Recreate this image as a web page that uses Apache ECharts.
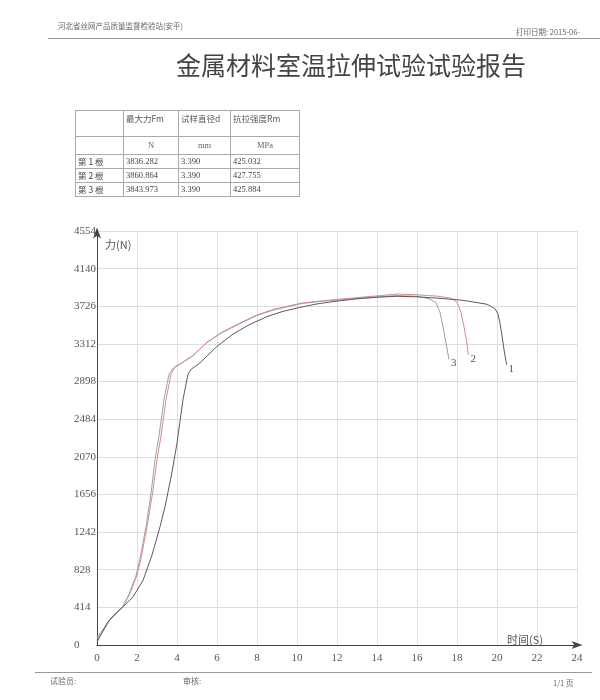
<!DOCTYPE html>
<html><head><meta charset="utf-8">
<script src="https://cdn.jsdelivr.net/npm/echarts@6/dist/echarts.min.js"></script>
<style>
html,body{margin:0;padding:0;background:#fff;}
#page{position:relative;width:600px;height:700px;overflow:hidden;background:#fff;}
#chart{position:absolute;left:0;top:0;width:600px;height:700px;}
.t{position:absolute;white-space:nowrap;font-family:"Noto Sans CJK SC",sans-serif;color:#555;line-height:1;}
.hl{position:absolute;height:0;border-top:1px solid #888;}
table.rep{position:absolute;left:75px;top:110px;border-collapse:collapse;table-layout:fixed;width:224px;}
table.rep td{border:1px solid #aaa;padding:0 2px;font-size:8.5px;color:#444;white-space:nowrap;overflow:hidden;
  font-family:"Liberation Serif","Noto Sans CJK SC",serif;line-height:1;}
table.rep td.cj{font-family:"Noto Sans CJK SC",sans-serif;}
</style>
</head><body>
<div id="page">
<div id="chart"></div>
<div class="t" style="left:58px;top:22px;font-size:7.5px;color:#666;">河北省丝网产品质量监督检验站(安平)</div>
<div class="t" style="left:516px;top:28px;font-size:7.5px;color:#666;">打印日期: 2015-06-</div>
<div class="hl" style="left:48px;top:38px;width:552px;border-color:#999;"></div>
<div class="t" style="left:176px;top:52px;font-size:25px;color:#444;">金属材料室温拉伸试验试验报告</div>
<div id="tbl"></div>
<div class="hl" style="left:35px;top:672px;width:557px;border-color:#999;"></div>
<div class="t" style="left:50px;top:677px;font-size:8px;color:#666;">试验员:</div>
<div class="t" style="left:183px;top:677px;font-size:8px;color:#666;">审核:</div>
<div class="t" style="left:553px;top:679px;font-size:7.5px;color:#666;">1/1 页</div>
</div>
<script>
// ---- table data ----
const tableHeads = ['', '最大力Fm', '试样直径d', '抗拉强度Rm'];
const tableUnits = ['', 'N', 'mm', 'MPa'];
const rowNames = ['第 1 根', '第 2 根', '第 3 根'];
const maxForce = ['3836.282', '3860.864', '3843.973'];
const diameter = ['3.390', '3.390', '3.390'];
const strength = ['425.032', '427.755', '425.884'];

// ---- curve data: [time (s), force (N)] ----
const curve1 = [[0,30],[0.5,240],[0.8,320],[1.3,420],[1.8,530],[2.3,710],[2.75,990],[3.15,1300],[3.4,1520],[3.75,1900],[4.0,2220],[4.3,2700],[4.55,2980],[4.72,3035],[5.1,3095],[5.6,3200],[6.0,3285],[6.8,3420],[7.6,3522],[8.5,3612],[9.3,3670],[10.2,3716],[11,3752],[12,3783],[13,3808],[14,3825],[15,3836],[16,3830],[17,3816],[18,3798],[18.5,3785],[19.5,3748],[19.9,3700],[20.05,3640],[20.15,3540],[20.25,3400],[20.35,3250],[20.48,3083]];
const curve2 = [[0,60],[0.3,150],[0.65,275],[1.0,350],[1.3,420],[1.65,570],[2.0,770],[2.2,950],[2.5,1300],[2.8,1700],[3.0,2040],[3.2,2300],[3.45,2700],[3.7,2980],[3.92,3065],[4.3,3112],[4.8,3185],[5.5,3330],[6.2,3435],[7.2,3548],[8.0,3630],[8.8,3690],[10.2,3760],[11.2,3785],[12.2,3805],[13.2,3825],[14,3840],[15,3861],[16,3852],[17,3838],[17.7,3815],[18.0,3770],[18.2,3660],[18.35,3500],[18.48,3340],[18.57,3190]];
const curve3 = [[0,80],[0.3,170],[0.65,280],[1.0,352],[1.3,425],[1.6,560],[1.95,760],[2.15,950],[2.45,1300],[2.72,1700],[2.9,2040],[3.1,2300],[3.35,2700],[3.6,2980],[3.82,3047],[4.3,3110],[4.8,3183],[5.5,3328],[6.2,3430],[7.2,3542],[8.0,3625],[8.8,3684],[10.2,3755],[11.2,3780],[12.2,3798],[13.2,3815],[14,3830],[15,3844],[16,3835],[16.6,3810],[16.95,3765],[17.15,3660],[17.3,3500],[17.45,3320],[17.6,3140]];

const xTickInterval = 2, xMax = 24;
const yTickInterval = 414, yMax = 4554;
const seriesNames = ['1', '2', '3'];
const seriesColors = ['#5a5a5a', '#d38c8c', '#93a69c'];

// build table
(function(){
  let h = '<table class="rep"><colgroup><col style="width:48px"><col style="width:55px"><col style="width:52px"><col style="width:69px"></colgroup>';
  h += '<tr style="height:26px">' + tableHeads.map(s => '<td class="cj" style="vertical-align:top;padding-top:3px;color:#555">' + s + '</td>').join('') + '</tr>';
  h += '<tr style="height:18px">' + tableUnits.map(s => '<td style="text-align:center;color:#666">' + s + '</td>').join('') + '</tr>';
  for (let i = 0; i < rowNames.length; i++) {
    h += '<tr style="height:14px"><td class="cj">' + rowNames[i] + '</td><td>' + maxForce[i] + '</td><td>' + diameter[i] + '</td><td>' + strength[i] + '</td></tr>';
  }
  h += '</table>';
  document.getElementById('tbl').innerHTML = h;
})();

const chart = echarts.init(document.getElementById('chart'), null, {renderer: 'canvas'});
const labelFont = '"Liberation Serif", "DejaVu Serif", serif';
const cjkFont = '"Noto Sans CJK SC", sans-serif';
const curves = [curve1, curve2, curve3];
chart.setOption({
  backgroundColor: 'transparent',
  animation: false,
  grid: {left: 97, right: 23, top: 231, bottom: 55, containLabel: false, outerBoundsMode: 'none'},
  xAxis: {
    type: 'value', min: 0, max: xMax, interval: xTickInterval,
    name: '时间(S)', nameLocation: 'end', nameGap: -70,
    nameTextStyle: {fontFamily: cjkFont, fontSize: 11, color: '#555', verticalAlign: 'bottom', align: 'left'},
    axisLine: {show: true, onZero: false, lineStyle: {color: '#444', width: 1}, symbol: ['none', 'arrow'], symbolSize: [6, 11], symbolOffset: [0, 5.5]},
    axisTick: {show: false},
    axisLabel: {color: '#555', fontFamily: labelFont, fontSize: 11, margin: 8, formatter: v => String(v)},
    splitLine: {show: true, lineStyle: {color: '#dedede', width: 1}}
  },
  yAxis: {
    type: 'value', min: 0, max: yMax, interval: yTickInterval,
    name: '力(N)', nameLocation: 'end', nameGap: -14,
    nameTextStyle: {fontFamily: cjkFont, fontSize: 11, color: '#555', align: 'left', verticalAlign: 'middle', padding: [0, 0, 0, 8]},
    axisLine: {show: true, onZero: false, lineStyle: {color: '#444', width: 1}, symbol: ['none', 'arrow'], symbolSize: [6, 11], symbolOffset: [0, 3.5]},
    axisTick: {show: false},
    axisLabel: {color: '#555', fontFamily: labelFont, fontSize: 11, align: 'left', margin: 23, formatter: v => String(v)},
    splitLine: {show: true, lineStyle: {color: '#dedede', width: 1}}
  },
  series: curves.map((c, i) => ({
    name: seriesNames[i], type: 'line', data: c, showSymbol: false,
    smooth: false,
    lineStyle: {color: seriesColors[i], width: 1},
    itemStyle: {color: seriesColors[i]},
    z: 3 - i,
    endLabel: {show: true, formatter: '{a}', color: '#555', fontFamily: labelFont, fontSize: 11, distance: 2, offset: [0, 4]}
  }))
});
</script>
</body></html>
